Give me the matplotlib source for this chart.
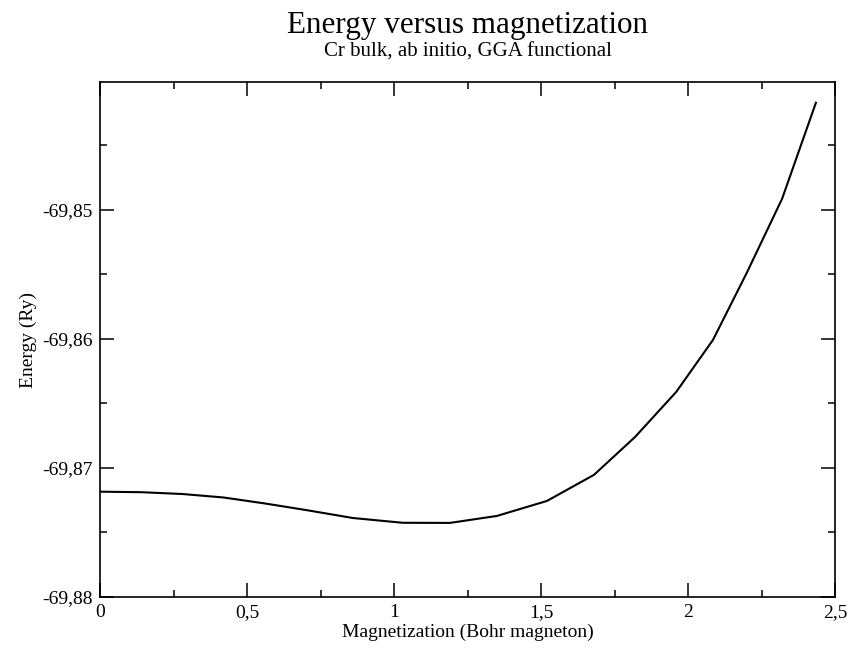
import matplotlib
matplotlib.use("Agg")
import matplotlib.pyplot as plt
from matplotlib.ticker import MultipleLocator, FuncFormatter

# magnetization (Bohr magneton) and total energy (Ry)
magnetization = [0.0, 0.14, 0.28, 0.42, 0.56, 0.70, 0.86, 1.03, 1.19, 1.35,
                 1.52, 1.68, 1.82, 1.96, 2.085, 2.20, 2.32, 2.435]
energy = [-69.87184, -69.87188, -69.87202, -69.87229, -69.87275, -69.87326,
          -69.87388, -69.87425, -69.87426, -69.87372, -69.87256, -69.87054,
          -69.86760, -69.86411, -69.86008, -69.85488, -69.84915, -69.84171]

title = "Energy versus magnetization"
subtitle = "Cr bulk, ab initio, GGA functional"
xlabel = "Magnetization (Bohr magneton)"
ylabel = "Energy (Ry)"

plt.rcParams['font.family'] = ['Liberation Serif', 'DejaVu Serif']

fig = plt.figure(figsize=(8.49, 6.5), dpi=100)
ax = fig.add_axes([100/849, 1 - 597/650, 735/849, 515/650])

ax.plot(magnetization, energy, color='black', lw=1.5)

# top edge sits just under -69.84, so that tick is not drawn
ax.set_xlim(0, 2.5)
ax.set_ylim(-69.88, -69.8401)

ax.xaxis.set_major_locator(MultipleLocator(0.5))
ax.xaxis.set_minor_locator(MultipleLocator(0.25))
ax.yaxis.set_major_locator(MultipleLocator(0.01))
ax.yaxis.set_minor_locator(MultipleLocator(0.005))

ax.xaxis.set_major_formatter(FuncFormatter(lambda v, p: f"{v:g}".replace('.', ',')))
ax.yaxis.set_major_formatter(FuncFormatter(lambda v, p: f"{v:.2f}".replace('.', ',')))

ax.tick_params(which='both', direction='in', top=True, right=True, width=1.1)
ax.tick_params(which='major', length=10, labelsize=14, pad=5)
ax.tick_params(which='minor', length=5)
for s in ax.spines.values():
    s.set_linewidth(1.2)

ax.set_xlabel(xlabel, fontsize=14, labelpad=2)
ax.set_ylabel(ylabel, fontsize=14, labelpad=4)

fig.text(467.5/849, 1 - 25/650, title, fontsize=22.4, ha='center', va='center')
fig.text(467.5/849, 1 - 52/650, subtitle, fontsize=15, ha='center', va='center')

fig.savefig("out.png", dpi=100)
